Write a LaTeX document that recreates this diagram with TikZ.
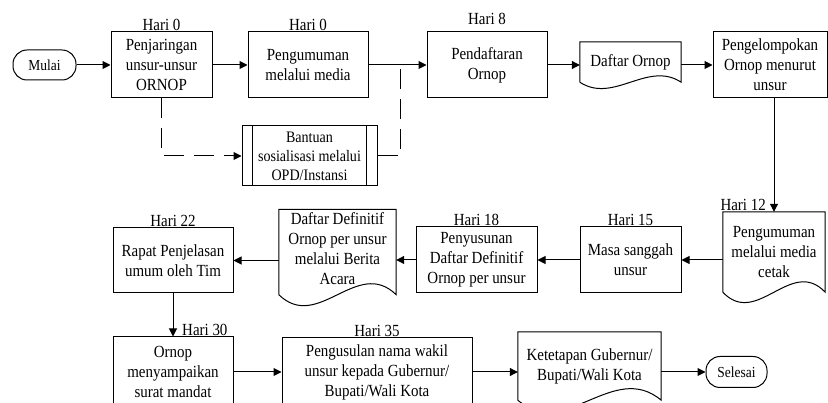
\documentclass[tikz,border=0pt]{standalone}
\usepackage{fontspec}
\setmainfont{Liberation Serif}[FakeStretch=0.88]
\usetikzlibrary{arrows.meta,calc,positioning}

\tikzset{
  garis/.style={line width=1pt},
  panah/.style={line width=1pt,-{Triangle[length=8pt,width=8pt]}},
  putus/.style={line width=1pt,dash pattern=on 20pt off 10pt},
  kotak/.style={draw,line width=1pt,inner sep=1pt,align=center,font=\fontsize{17}{20}\selectfont},
  teks/.style={inner sep=1pt,align=center,font=\fontsize{17}{20}\selectfont},
  terminal/.style={draw,line width=1pt,rounded corners=14pt,inner sep=1pt,font=\fontsize{15.3}{18}\selectfont},
  hari/.style={inner sep=1pt,font=\fontsize{17}{19}\selectfont}
}

\newcommand{\dokumen}[2]{%
  \draw[garis] (#1.south west) -- (#1.north west) -- (#1.north east) -- (#1.south east)
    .. controls ($(#1.south east)!1/3!(#1.south west)+(0,-#2)$) and ($(#1.south east)!2/3!(#1.south west)+(0,#2)$) .. (#1.south west);}

\begin{document}
\begin{tikzpicture}[x=1pt,y=-1pt]
\useasboundingbox (0,0) rectangle (828,403);
\clip (0,0) rectangle (828,403);

% baris atas
\node[terminal,minimum width=63pt,minimum height=30pt] (mulai) at (44.5,65) {Mulai};
\node[kotak,minimum width=101pt,minimum height=66pt] (penjaringan) at (161.5,65) {Penjaringan\\unsur-unsur\\ORNOP};
\node[kotak,minimum width=120pt,minimum height=66pt] (pengumuman) at (308,65) {Pengumuman\\melalui media};
\node[kotak,minimum width=120pt,minimum height=66pt] (pendaftaran) at (487,65) {Pendaftaran\\Ornop};
\node[teks,minimum width=101pt,minimum height=40pt] (daftar) at (630.5,62) {Daftar Ornop};
\dokumen{daftar}{22}
\node[kotak,minimum width=114pt,minimum height=66pt] (pengelompokan) at (770,65) {Pengelompokan\\Ornop menurut\\unsur};
\node[kotak,minimum width=135pt,minimum height=60pt,font=\fontsize{16}{19}\selectfont] (bantuan) at (309.5,156) {Bantuan\\sosialisasi melalui\\OPD/Instansi};
\draw[garis] ([xshift=11pt]bantuan.north west) -- ([xshift=11pt]bantuan.south west);
\draw[garis] ([xshift=-11pt]bantuan.north east) -- ([xshift=-11pt]bantuan.south east);

\node[hari,above=0pt of penjaringan] (h0a) {Hari 0};
\node[hari,above=0pt of pengumuman] (h0b) {Hari 0};
\node[hari,above=6pt of pendaftaran] (h8) {Hari 8};

% baris tengah
\node[teks,minimum width=102pt,minimum height=80pt] (cetak) at (774,252) {Pengumuman\\melalui media\\cetak};
\dokumen{cetak}{36}
\node[kotak,minimum width=101pt,minimum height=66pt] (masa) at (630.5,260) {Masa sanggah\\unsur};
\node[kotak,minimum width=121pt,minimum height=66pt] (penyusunan) at (476.5,260) {Penyusunan\\Daftar Definitif\\Ornop per unsur};
\node[teks,minimum width=117pt,minimum height=85pt,text depth=6pt] (definitif) at (337.5,252) {Daftar Definitif\\Ornop per unsur\\melalui Berita\\Acara};
\dokumen{definitif}{38}
\node[kotak,minimum width=120pt,minimum height=65pt] (rapat) at (173,260.5) {Rapat Penjelasan\\umum oleh Tim};

\node[hari,anchor=south east] (h12) at ([xshift=-7pt]cetak.north) {Hari 12};
\node[hari,above=0pt of masa] (h15) {Hari 15};
\node[hari,above=0pt of penyusunan] (h18) {Hari 18};
\node[hari,above=0pt of rapat] (h22) {Hari 22};

% baris bawah
\node[kotak,minimum width=120pt,minimum height=70pt] (ornop) at (173,372) {Ornop\\menyampaikan\\surat mandat};
\node[kotak,minimum width=190pt,minimum height=68pt] (pengusulan) at (377,372) {Pengusulan nama wakil\\unsur kepada Gubernur/\\Bupati/Wali Kota};
\node[teks,minimum width=143pt,minimum height=68pt] (ketetapan) at (589.5,366) {Ketetapan Gubernur/\\Bupati/Wali Kota};
\dokumen{ketetapan}{40}
\node[terminal,minimum width=61pt,minimum height=31pt] (selesai) at (736.5,372) {Selesai};

\node[hari,anchor=south west] (h30) at ([xshift=8pt]ornop.north) {Hari 30};
\node[hari,above=0pt of pengusulan] (h35) {Hari 35};

% panah
\coordinate (temu) at ($(pengumuman.east)!0.55!(pendaftaran.west)$);
\draw[panah] (mulai) -- (penjaringan);
\draw[panah] (penjaringan) -- (pengumuman);
\draw[panah] (pengumuman) -- (pendaftaran);
\draw[panah] (pendaftaran.east) -- (pendaftaran.east -| daftar.west);
\draw[panah] (daftar.east |- pengelompokan.west) -- (pengelompokan.west);
\draw[putus,-{Triangle[length=8pt,width=8pt]}] (penjaringan.south) |- (bantuan.west);
\draw[putus] (bantuan.east) -| (temu);
\draw[panah] (cetak.north |- pengelompokan.south) -- (cetak.north);
\draw[panah] (cetak.west |- masa.east) -- (masa.east);
\draw[panah] (masa) -- (penyusunan);
\draw[panah] (penyusunan.west) -- (penyusunan.west -| definitif.east);
\draw[panah] (definitif.west |- rapat.east) -- (rapat.east);
\draw[panah] (rapat) -- (ornop);
\draw[panah] (ornop) -- (pengusulan);
\draw[panah] (pengusulan.east) -- (pengusulan.east -| ketetapan.west);
\draw[panah] (ketetapan.east |- selesai.west) -- (selesai.west);
\end{tikzpicture}
\end{document}
